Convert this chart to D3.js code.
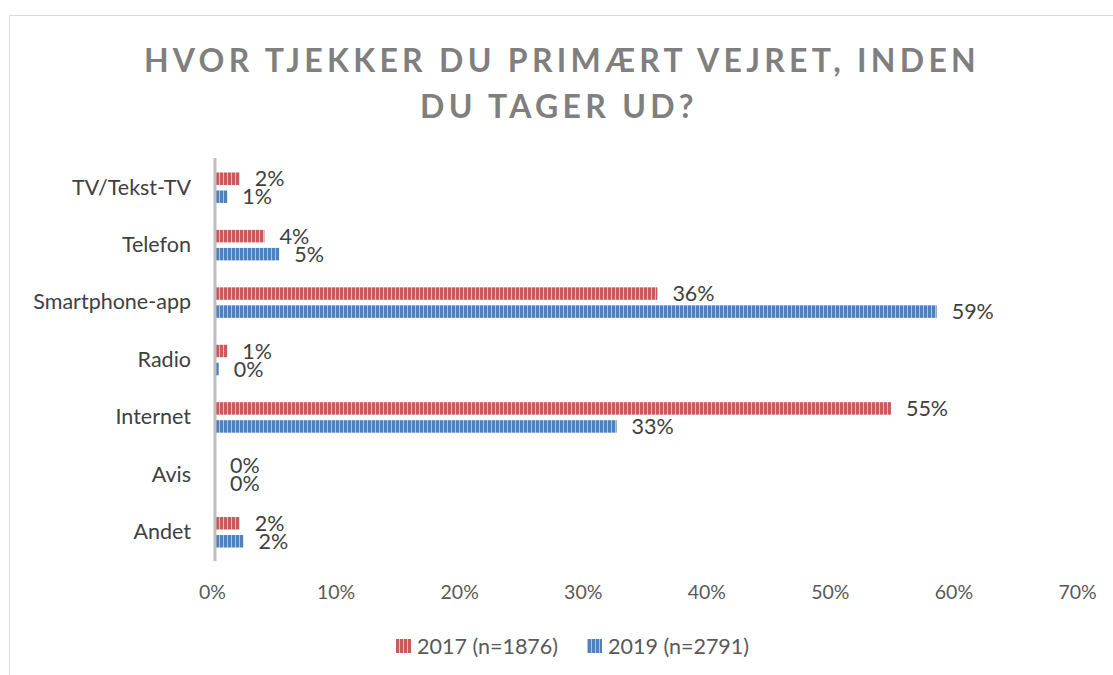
<!DOCTYPE html>
<html>
<head>
<meta charset="utf-8">
<script src="https://cdn.jsdelivr.net/npm/d3@7"></script>
<style>
  body { margin: 0; background: #fff; }
  svg { display: block; font-family: Lato, "Open Sans", sans-serif; }
</style>
</head>
<body>
<svg id="chart"></svg>
<script>
// data
const categories = ["TV/Tekst-TV", "Telefon", "Smartphone-app", "Radio", "Internet", "Avis", "Andet"];
const values2017 = [2.0, 4.0, 35.8, 1.0, 54.7, 0, 2.0];
const values2019 = [1.0, 5.2, 58.4, 0.3, 32.5, 0, 2.3];
const labels2017 = ["2%", "4%", "36%", "1%", "55%", "0%", "2%"];
const labels2019 = ["1%", "5%", "59%", "0%", "33%", "0%", "2%"];
const seriesNames = ["2017 (n=1876)", "2019 (n=2791)"];
const xTicks = [0, 10, 20, 30, 40, 50, 60, 70];

const width = 1113, height = 675;
const svg = d3.select("#chart").attr("width", width).attr("height", height);

// stripe patterns
const defs = svg.append("defs");
function stripes(id, base, light) {
  const p = defs.append("pattern").attr("id", id)
    .attr("patternUnits", "userSpaceOnUse").attr("width", 4).attr("height", 10);
  p.append("rect").attr("width", 4).attr("height", 10).attr("fill", base);
  p.append("rect").attr("x", 3).attr("width", 1).attr("height", 10).attr("fill", light);
}
stripes("red", "#C85A5C", "#EFB9B8");
stripes("blue", "#4F81BD", "#A9C4E6");

// frame
svg.append("path").attr("d", "M9.5,675 V15.5 H1113").attr("fill", "none").attr("stroke", "#D9D9D9").attr("stroke-width", 1);

// title
const title = svg.append("text").attr("text-anchor", "middle").attr("fill", "#7F7F7F")
  .attr("font-size", 32).attr("font-weight", "bold").attr("letter-spacing", 4.3);
title.append("tspan").attr("x", 562).attr("y", 72).text("HVOR TJEKKER DU PRIMÆRT VEJRET, INDEN");
title.append("tspan").attr("x", 559).attr("y", 118).text("DU TAGER UD?");

// scales
const x = d3.scaleLinear().domain([0, 70]).range([215, 1080]);
const y = d3.scaleBand().domain(categories).range([159, 561]);
const barH = 12.5;

// x axis labels
const xAxis = svg.append("g").attr("transform", "translate(0,599)")
  .call(d3.axisBottom(x).tickValues(xTicks).tickFormat(d => d + "%").tickSize(0));
xAxis.select(".domain").remove();
xAxis.selectAll("text").attr("fill", "#595959").attr("font-size", 19.5)
  .attr("font-family", "Lato, sans-serif").attr("dy", 0).attr("y", 0).attr("dx", -3);

// category labels
const yAxis = svg.append("g").attr("transform", "translate(197,0)")
  .call(d3.axisLeft(y).tickSize(0).tickPadding(6));
yAxis.select(".domain").remove();
yAxis.selectAll("text").attr("fill", "#404040").attr("font-size", 21.5)
  .attr("font-family", "Lato, sans-serif");

// bars
const series = [
  { vals: values2017, labels: labels2017, fill: "url(#red)", off: -9 },
  { vals: values2019, labels: labels2019, fill: "url(#blue)", off: 9 }
];
series.forEach(s => {
  const g = svg.append("g");
  g.selectAll("rect").data(categories).join("rect")
    .attr("x", x(0))
    .attr("y", d => y(d) + y.bandwidth() / 2 + s.off - barH / 2)
    .attr("width", (d, i) => x(s.vals[i]) - x(0))
    .attr("height", barH)
    .attr("fill", s.fill);
  g.selectAll("text").data(categories).join("text")
    .attr("x", (d, i) => x(s.vals[i]) + 15)
    .attr("y", d => y(d) + y.bandwidth() / 2 + s.off)
    .attr("dy", "0.35em")
    .attr("fill", "#404040").attr("font-size", 21.5)
    .text((d, i) => s.labels[i]);
});

// vertical axis line
svg.append("line").attr("x1", x(0)).attr("x2", x(0)).attr("y1", 158).attr("y2", 561)
  .attr("stroke", "#BFBFBF").attr("stroke-width", 3);

// legend
const legend = svg.append("g");
const legendX = [396, 587];
seriesNames.forEach((name, i) => {
  legend.append("rect").attr("x", legendX[i]).attr("y", 639).attr("width", 15).attr("height", 14)
    .attr("fill", i === 0 ? "url(#red)" : "url(#blue)");
  legend.append("text").attr("x", legendX[i] + 21).attr("y", 646).attr("dy", "0.35em")
    .attr("fill", "#595959").attr("font-size", 21.5).text(name);
});
</script>
</body>
</html>
